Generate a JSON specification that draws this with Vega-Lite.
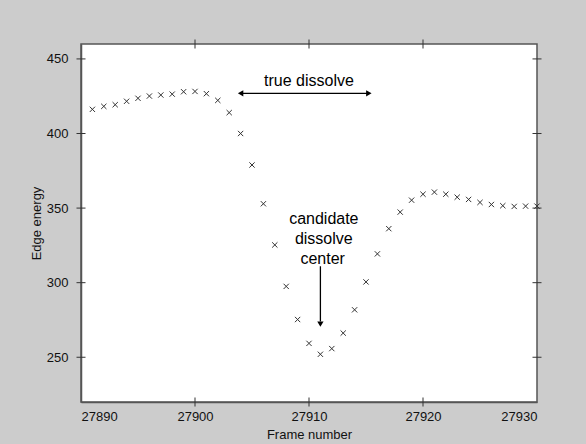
{
  "$schema": "https://vega.github.io/schema/vega-lite/v6.json",
  "width": 456,
  "height": 358,
  "autosize": {"type": "none"},
  "padding": {"left": 81, "top": 44, "right": 49, "bottom": 42},
  "background": "#cccccc",
  "config": {
    "view": {"stroke": "#555555", "strokeWidth": 1.5, "fill": "white"},
    "font": "Liberation Sans",
    "axis": {
      "grid": false,
      "domainColor": "#555555",
      "domainWidth": 1.5,
      "labelFont": "Liberation Sans",
      "labelFontSize": 13,
      "labelColor": "#111111",
      "titleFont": "Liberation Sans",
      "titleFontSize": 13,
      "titleFontWeight": "normal",
      "titleColor": "#111111"
    }
  },
  "datasets": {
    "energy": [
      {"frame": 27891, "energy": 416.2},
      {"frame": 27892, "energy": 418.2},
      {"frame": 27893, "energy": 419.3},
      {"frame": 27894, "energy": 421.6},
      {"frame": 27895, "energy": 423.6},
      {"frame": 27896, "energy": 425.1},
      {"frame": 27897, "energy": 425.8},
      {"frame": 27898, "energy": 426.4},
      {"frame": 27899, "energy": 428.0},
      {"frame": 27900, "energy": 428.2},
      {"frame": 27901, "energy": 426.7},
      {"frame": 27902, "energy": 422.2},
      {"frame": 27903, "energy": 414.0},
      {"frame": 27904, "energy": 400.0},
      {"frame": 27905, "energy": 378.9},
      {"frame": 27906, "energy": 352.9},
      {"frame": 27907, "energy": 325.3},
      {"frame": 27908, "energy": 297.5},
      {"frame": 27909, "energy": 275.3},
      {"frame": 27910, "energy": 259.3},
      {"frame": 27911, "energy": 252.0},
      {"frame": 27912, "energy": 255.8},
      {"frame": 27913, "energy": 266.2},
      {"frame": 27914, "energy": 281.8},
      {"frame": 27915, "energy": 300.5},
      {"frame": 27916, "energy": 319.3},
      {"frame": 27917, "energy": 336.2},
      {"frame": 27918, "energy": 347.3},
      {"frame": 27919, "energy": 355.3},
      {"frame": 27920, "energy": 359.3},
      {"frame": 27921, "energy": 360.7},
      {"frame": 27922, "energy": 359.3},
      {"frame": 27923, "energy": 357.3},
      {"frame": 27924, "energy": 355.8},
      {"frame": 27925, "energy": 353.8},
      {"frame": 27926, "energy": 352.4},
      {"frame": 27927, "energy": 351.6},
      {"frame": 27928, "energy": 351.1},
      {"frame": 27929, "energy": 351.3},
      {"frame": 27930, "energy": 351.3}
    ],
    "xticks": [
      {"frame": 27900, "edge": 220}, {"frame": 27910, "edge": 220}, {"frame": 27920, "edge": 220},
      {"frame": 27900, "edge": 460}, {"frame": 27910, "edge": 460}, {"frame": 27920, "edge": 460}
    ],
    "yticks": [
      {"energy": 250, "edge": 27890}, {"energy": 300, "edge": 27890}, {"energy": 350, "edge": 27890}, {"energy": 400, "edge": 27890}, {"energy": 450, "edge": 27890},
      {"energy": 250, "edge": 27930}, {"energy": 300, "edge": 27930}, {"energy": 350, "edge": 27930}, {"energy": 400, "edge": 27930}, {"energy": 450, "edge": 27930}
    ],
    "labels": [
      {"frame": 27910, "energy": 432, "label": "true dissolve"},
      {"frame": 27911.3, "energy": 339.3, "label": "candidate"},
      {"frame": 27911.3, "energy": 326, "label": "dissolve"},
      {"frame": 27911.2, "energy": 312.7, "label": "center"}
    ],
    "segments": [
      {"x1": 27904.0, "x2": 27915.2, "y1": 426.9, "y2": 426.9},
      {"x1": 27911.0, "x2": 27911.0, "y1": 311, "y2": 274}
    ],
    "heads": [
      {"frame": 27904.0, "energy": 426.9, "dir": "left"},
      {"frame": 27915.25, "energy": 426.9, "dir": "right"},
      {"frame": 27911.0, "energy": 272.2, "dir": "down"}
    ]
  },
  "encoding": {},
  "layer": [
    {
      "data": {"name": "energy"},
      "mark": {"type": "point", "shape": "M-1,-1L1,1M-1,1L1,-1", "filled": false, "stroke": "#333333", "strokeWidth": 1, "size": 28, "opacity": 1},
      "encoding": {
        "x": {"field": "frame", "type": "quantitative", "scale": {"domain": [27890, 27930], "nice": false, "zero": false},
              "axis": {"orient": "bottom", "values": [27890, 27900, 27910, 27920, 27930], "format": "d", "title": "Frame number", "ticks": false, "labelPadding": 8, "titlePadding": 5}},
        "y": {"field": "energy", "type": "quantitative", "scale": {"domain": [220, 460], "nice": false, "zero": false},
              "axis": {"orient": "left", "values": [250, 300, 350, 400, 450], "title": "Edge energy", "ticks": false, "labelPadding": 13, "titlePadding": 3}}
      }
    },
    {
      "data": {"name": "xticks"},
      "mark": {"type": "tick", "orient": "vertical", "size": 9, "thickness": 1, "color": "#333333", "opacity": 1},
      "encoding": {
        "x": {"field": "frame", "type": "quantitative"},
        "y": {"field": "edge", "type": "quantitative"}
      }
    },
    {
      "data": {"name": "yticks"},
      "mark": {"type": "tick", "orient": "horizontal", "size": 9, "thickness": 1, "color": "#333333", "opacity": 1},
      "encoding": {
        "x": {"field": "edge", "type": "quantitative"},
        "y": {"field": "energy", "type": "quantitative"}
      }
    },
    {
      "data": {"name": "segments"},
      "mark": {"type": "rule", "color": "black", "strokeWidth": 1.3},
      "encoding": {
        "x": {"field": "x1", "type": "quantitative"},
        "x2": {"field": "x2"},
        "y": {"field": "y1", "type": "quantitative"},
        "y2": {"field": "y2"}
      }
    },
    {
      "data": {"name": "heads"},
      "mark": {"type": "point", "filled": true, "color": "black", "size": 40, "opacity": 1},
      "encoding": {
        "x": {"field": "frame", "type": "quantitative"},
        "y": {"field": "energy", "type": "quantitative"},
        "shape": {"field": "dir", "type": "nominal", "scale": {"domain": ["left", "right", "down"], "range": ["triangle-left", "triangle-right", "triangle-down"]}, "legend": null}
      }
    },
    {
      "data": {"name": "labels"},
      "mark": {"type": "text", "font": "Liberation Sans", "fontSize": 16, "color": "black", "align": "center", "baseline": "alphabetic"},
      "encoding": {
        "x": {"field": "frame", "type": "quantitative"},
        "y": {"field": "energy", "type": "quantitative"},
        "text": {"field": "label"}
      }
    }
  ]
}
